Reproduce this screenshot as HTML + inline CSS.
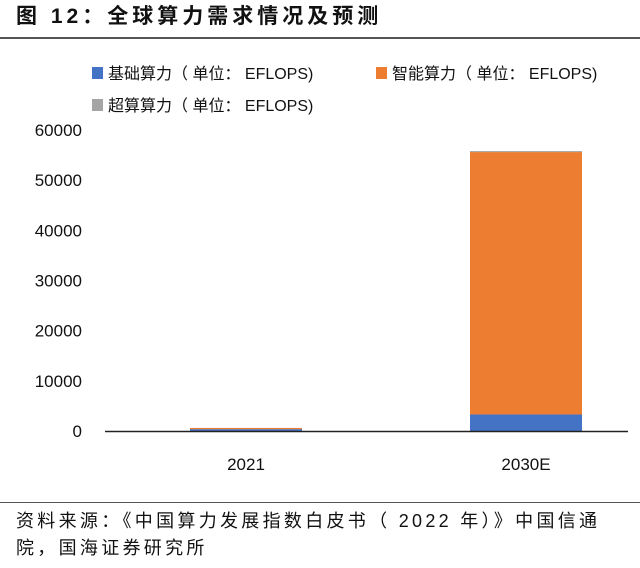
<!DOCTYPE html>
<html><head><meta charset="utf-8"><style>
body{margin:0;width:640px;height:568px;background:#fff;font-family:"Liberation Sans","Noto Sans CJK SC",sans-serif;position:relative;overflow:hidden}
.t{position:absolute;white-space:nowrap}
</style></head><body>
<div class="t" style="left:16px;top:0px;font-size:21px;font-weight:bold;color:#111;letter-spacing:4px">图 12&#xFF1A;全球算力需求情况及预测</div>
<div style="position:absolute;left:0;top:37px;width:640px;height:2px;background:#555"></div>
<svg id="c" width="640" height="500" style="position:absolute;left:0;top:0" font-family="Liberation Sans, Noto Sans CJK SC, sans-serif"></svg>
<div style="position:absolute;left:0;top:502px;width:640px;height:1px;background:#555"></div>
<div class="t" style="left:16px;top:508px;font-size:18px;line-height:27px;color:#111;letter-spacing:3.3px">资料来源&#xFF1A;《中国算力发展指数白皮书&#xFF08; 2022 年&#xFF09;》中国信通<br>院&#xFF0C;国海证券研究所</div>
<script>
const categories=["2021","2030E"];
const basic=[369,3300];
const smart=[232,52300];
const superc=[14,200];
const ticks=[0,10000,20000,30000,40000,50000,60000];
const seriesNames=["基础算力\uFF08 单位\uFF1A EFLOPS)","智能算力\uFF08 单位\uFF1A EFLOPS)","超算算力\uFF08 单位\uFF1A EFLOPS)"];
const colors=["#4472c4","#ed7d31","#a5a5a5"];
const svg=document.getElementById('c');const NS='http://www.w3.org/2000/svg';
function mk(t,a){const e=document.createElementNS(NS,t);for(const k in a)e.setAttribute(k,a[k]);svg.appendChild(e);return e;}
const y=v=>431-v*(301/60000);
const xc=i=>246+i*280;
ticks.forEach(t=>{const e=mk('text',{x:82,y:y(t)+6,'text-anchor':'end','font-size':17,fill:'#111'});e.textContent=t;

});
const series=[basic,smart,superc];
categories.forEach((c,i)=>{let acc=0;series.forEach((s,j)=>{const r=mk('rect',{x:xc(i)-56,width:112,y:y(acc+s[i]),height:y(acc)-y(acc+s[i]),fill:colors[j]});

acc+=s[i];});
const l=mk('text',{x:xc(i),y:470,'text-anchor':'middle','font-size':17,fill:'#111'});l.textContent=c;

});
const ax=mk('line',{x1:105,x2:628,y1:431.5,y2:431.5,stroke:'#222','stroke-width':1.5});


const lp=[[92,73],[376,73],[92,105]];
seriesNames.forEach((n,j)=>{const g=mk('g',{});


const r=document.createElementNS(NS,'rect');r.setAttribute('x',lp[j][0]);r.setAttribute('y',lp[j][1]-6);r.setAttribute('width',11);r.setAttribute('height',12);r.setAttribute('fill',colors[j]);g.appendChild(r);
const t=document.createElementNS(NS,'text');t.setAttribute('x',lp[j][0]+16);t.setAttribute('y',lp[j][1]+6);t.setAttribute('font-size',16);t.setAttribute('fill','#111');t.textContent=n;g.appendChild(t);});
</script>
</body></html>
